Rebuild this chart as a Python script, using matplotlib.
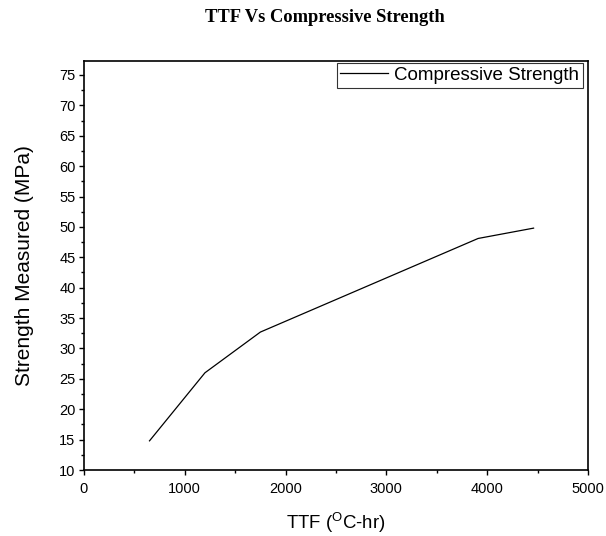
import matplotlib
matplotlib.use("Agg")
import matplotlib.pyplot as plt
from matplotlib.ticker import MultipleLocator

plt.rcParams["font.family"] = ["Liberation Sans", "DejaVu Sans"]
plt.rcParams["mathtext.fontset"] = "custom"
plt.rcParams["mathtext.rm"] = "Liberation Sans"
plt.rcParams["mathtext.it"] = "Liberation Sans"

# data
ttf = [650, 1200, 1750, 3910, 4460]
strength = [14.8, 26.0, 32.7, 48.1, 49.8]

fig = plt.figure(figsize=(6.06, 5.36), dpi=100)
ax = fig.add_axes([0.1386, 0.1231, 0.8317, 0.7631])

ax.plot(ttf, strength, color="black", linewidth=0.9, label="Compressive Strength")

ax.set_xlim(0, 5000)
ax.set_ylim(10, 77.3)
ax.xaxis.set_major_locator(MultipleLocator(1000))
ax.xaxis.set_minor_locator(MultipleLocator(500))
ax.yaxis.set_major_locator(MultipleLocator(5))
ax.yaxis.set_minor_locator(MultipleLocator(2.5))
ax.tick_params(which="major", direction="out", length=3.6, width=1, labelsize=10.5)
ax.tick_params(which="minor", direction="out", length=2.2, width=1)
ax.tick_params(axis="x", which="major", pad=5)
ax.tick_params(axis="y", which="major", pad=2.5)
for s in ax.spines.values():
    s.set_linewidth(1.2)

ax.set_xlabel(r"TTF ($^{\mathrm{O}}$C-hr)", fontsize=13.4)
ax.xaxis.set_label_coords(0.5, -0.100)
ax.set_ylabel("Strength Measured (MPa)", fontsize=15)
ax.yaxis.set_label_coords(-0.10, 0.5)

fig.text(0.5355, 0.967, "TTF Vs Compressive Strength", fontsize=13.3, fontweight="bold",
         family="Liberation Serif", ha="center", va="center")

leg = ax.legend(loc="upper right", bbox_to_anchor=(0.990, 0.9951), fontsize=13.5,
                frameon=True, fancybox=False, borderaxespad=0, borderpad=0.2,
                handlelength=2.55, handletextpad=0.32)
leg.get_frame().set_edgecolor("black")
leg.get_frame().set_linewidth(0.8)

fig.savefig("out.png", dpi=100)
